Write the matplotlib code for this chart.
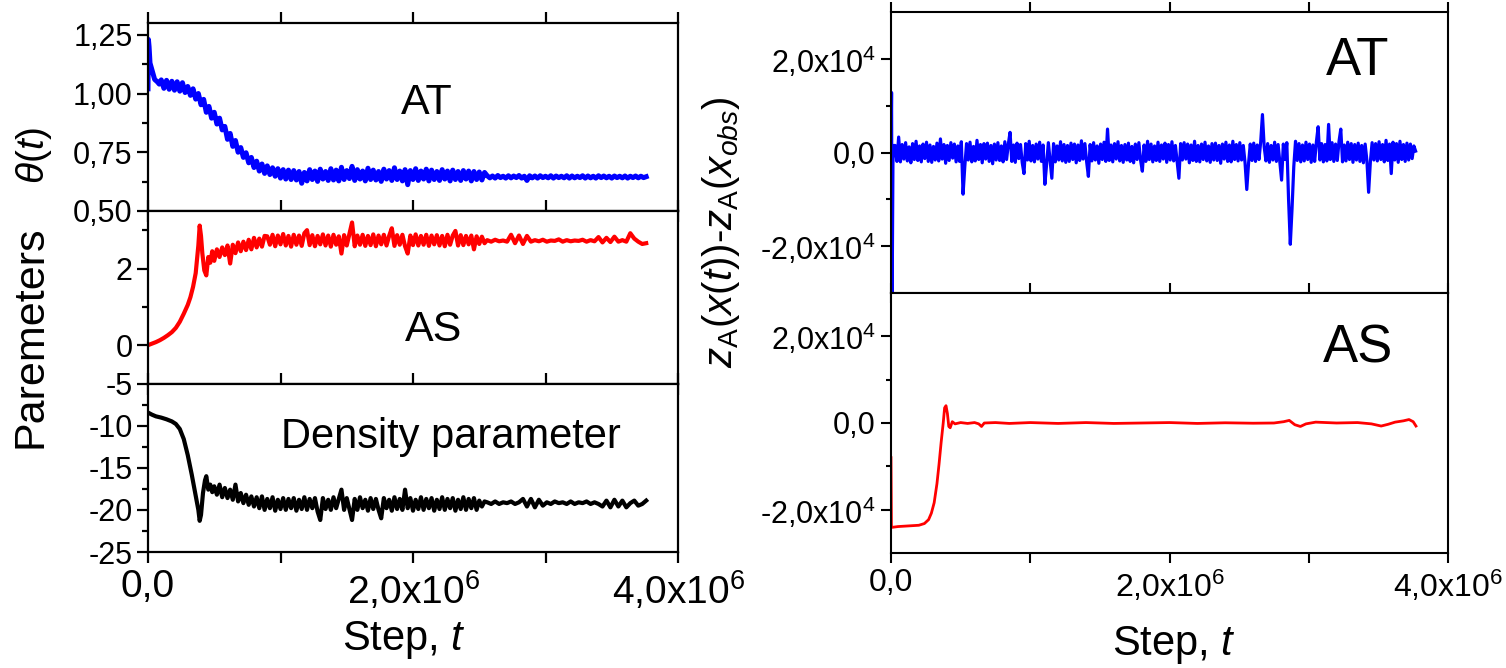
import numpy as np
import matplotlib.pyplot as plt
from matplotlib.ticker import FixedLocator, FuncFormatter

plt.rcParams['font.family'] = 'Liberation Sans'
plt.rcParams['mathtext.fontset'] = 'custom'
plt.rcParams['mathtext.rm'] = 'Liberation Sans'
plt.rcParams['mathtext.it'] = 'Liberation Sans:italic'
plt.rcParams['mathtext.bf'] = 'Liberation Sans:bold'

# steps are in units of 1e6
# --- theta(t), AT run ---
theta_head_t = [0.0, 0.003, 0.008, 0.015, 0.03, 0.05, 0.07, 0.085]
theta_head = [1.02, 1.23, 1.20, 1.13, 1.10, 1.06, 1.05, 1.04]
theta_fall = [1.058, 1.022, 1.056, 1.018, 1.052, 1.014, 1.050, 1.010, 1.046, 1.004,
              1.030, 0.992, 1.020, 0.976, 1.000, 0.952, 0.975, 0.920, 0.945, 0.895,
              0.920, 0.870, 0.895, 0.845, 0.860, 0.805, 0.830, 0.775, 0.800, 0.750,
              0.770, 0.728, 0.748, 0.705, 0.728, 0.685, 0.712, 0.670, 0.700, 0.660,
              0.692, 0.655, 0.684, 0.648, 0.680, 0.640, 0.676, 0.636, 0.674, 0.634]
theta_mid = [0.672, 0.632, 0.668, 0.618, 0.664, 0.628, 0.676, 0.634, 0.670, 0.626,
             0.678, 0.636, 0.668, 0.630, 0.680, 0.632, 0.674, 0.628, 0.686, 0.634,
             0.672, 0.638, 0.690, 0.630, 0.676, 0.636, 0.670, 0.628, 0.682, 0.634,
             0.674, 0.632, 0.668, 0.626, 0.678, 0.636, 0.672, 0.630, 0.684, 0.634,
             0.670, 0.628, 0.676, 0.612, 0.672, 0.634, 0.680, 0.630, 0.670, 0.636,
             0.678, 0.628, 0.674, 0.634, 0.668, 0.630, 0.676, 0.636, 0.670, 0.628,
             0.674, 0.634, 0.668, 0.630, 0.672, 0.636, 0.670, 0.628, 0.668, 0.634,
             0.666, 0.632, 0.664]
theta_tail = [0.650, 0.641, 0.649, 0.640, 0.651, 0.642, 0.648, 0.640, 0.650, 0.641,
              0.649, 0.642, 0.651, 0.640, 0.648, 0.630, 0.650, 0.641, 0.649, 0.640,
              0.650, 0.642, 0.648, 0.641, 0.650, 0.640, 0.649, 0.642, 0.648, 0.641,
              0.650, 0.640, 0.649, 0.641, 0.648, 0.642, 0.650, 0.640, 0.649, 0.641,
              0.648, 0.640, 0.650, 0.642, 0.649, 0.641, 0.648, 0.640, 0.649, 0.642,
              0.648, 0.641, 0.649, 0.640, 0.648, 0.642, 0.649, 0.641, 0.648, 0.642,
              0.646]

# --- AS parameter ---
as_head_t = [0.0, 0.03, 0.06, 0.09, 0.12, 0.15, 0.18, 0.21, 0.24, 0.27, 0.30, 0.32,
             0.34, 0.36, 0.38, 0.39, 0.40, 0.41, 0.425, 0.44, 0.455, 0.47, 0.485]
as_head = [0.0, 0.04, 0.08, 0.13, 0.19, 0.26, 0.34, 0.45, 0.61, 0.82, 1.05, 1.25,
           1.52, 1.88, 2.6, 3.12, 2.85, 2.4, 1.95, 1.82, 2.3, 2.15, 2.45]
as_early = [2.20, 2.50, 2.30, 2.55, 2.35, 2.60, 2.13, 2.62, 2.40, 2.68,
            2.45, 2.70, 2.48, 2.75, 2.50, 2.80, 2.55, 2.78, 2.57, 2.85]
as_mid = [2.84, 2.62, 2.88, 2.58, 2.86, 2.63, 2.90, 2.60, 2.85, 2.57,
          2.88, 2.62, 2.86, 2.59, 2.92, 3.00, 2.61, 2.87, 2.58, 2.85,
          2.63, 2.89, 2.60, 2.86, 2.57, 2.88, 2.62, 2.84, 2.39, 2.87,
          2.60, 2.90, 3.20, 2.58, 2.86, 2.62, 2.88, 2.59, 2.85, 2.61,
          2.89, 2.58, 2.86, 2.63, 2.88, 2.60, 2.85, 3.05, 2.59, 2.87,
          2.62, 2.88, 2.58, 2.39, 2.86, 2.61, 2.89, 2.60, 2.85, 2.62,
          2.88, 2.59, 2.86, 2.63, 2.87, 2.60, 2.85, 2.58, 2.88, 2.62,
          2.86, 2.98, 2.60, 2.87, 2.61, 2.85, 2.63, 2.86, 2.50, 2.84,
          2.64, 2.83, 2.66]
as_tail = [2.74, 2.70, 2.75, 2.71, 2.73, 2.70, 2.88, 2.66, 2.86, 2.64,
           2.85, 2.70, 2.74, 2.71, 2.75, 2.70, 2.73, 2.72, 2.76, 2.70,
           2.74, 2.71, 2.73, 2.72, 2.75, 2.70, 2.74, 2.71, 2.82, 2.68,
           2.80, 2.69, 2.83, 2.70, 2.74, 2.70, 2.92, 2.78, 2.70, 2.64,
           2.66]

# --- density parameter ---
rho_head_t = [0.0, 0.03, 0.06, 0.10, 0.14, 0.18, 0.21, 0.24, 0.27, 0.30, 0.33, 0.36,
              0.38, 0.39, 0.40, 0.415, 0.43, 0.44, 0.455, 0.47, 0.485]
rho_head = [-8.45, -8.7, -8.9, -9.05, -9.25, -9.5, -9.8, -10.4, -11.6, -13.5, -15.8, -18.3,
            -20.0, -21.3, -20.6, -18.0, -16.5, -16.0, -17.6, -17.0, -17.9]
rho_early = [-17.2, -18.2, -17.0, -18.5, -17.4, -18.6, -17.6, -18.8, -17.0, -19.0,
             -18.0, -19.2, -18.2, -19.4, -18.4, -19.6, -18.5, -19.8, -18.4, -20.0]
rho_mid = [-18.7, -19.8, -18.5, -20.1, -18.8, -19.9, -18.6, -20.0, -18.7, -19.8,
           -18.6, -20.1, -18.8, -19.9, -18.5, -20.0, -18.7, -19.8, -18.6, -20.2,
           -21.2, -18.6, -19.9, -18.8, -20.0, -18.5, -19.8, -18.7, -17.6, -20.0,
           -18.6, -19.9, -21.2, -18.7, -20.0, -18.5, -19.8, -18.8, -20.1, -18.6,
           -19.9, -18.7, -20.0, -21.0, -18.6, -19.8, -18.8, -20.1, -18.5, -19.9,
           -18.7, -20.0, -17.6, -19.8, -18.6, -20.1, -18.8, -19.9, -18.5, -20.0,
           -18.7, -19.8, -18.6, -20.1, -18.8, -19.9, -18.5, -20.0, -18.7, -19.8,
           -18.6, -20.1, -18.8, -19.9, -18.5, -20.0, -18.7, -19.8, -18.6, -20.0,
           -18.9, -19.6, -19.0]
rho_tail = [-19.1, -19.3, -19.0, -19.3, -19.1, -19.2, -19.0, -19.3, -19.1, -18.7,
            -19.6, -18.7, -19.7, -18.8, -19.5, -19.1, -19.3, -19.0, -19.2, -19.1,
            -19.3, -19.0, -19.3, -19.1, -19.2, -19.0, -19.3, -19.1, -19.3, -19.6,
            -18.9, -19.7, -18.8, -19.6, -18.9, -19.7, -19.2, -18.9, -19.5, -19.3,
            -18.9]

# --- z_A(x(t)) - z_A(x_obs), AT run (values in 1e3) ---
dz_at_head_t = [0.0, 0.004, 0.008, 0.014, 0.02]
dz_at_head = [0.0, 12.8, -32.0, -2.0, 1.5]
dz_at_body = [1.5, -1.9, 3.3, -2.0, 1.7, -1.4, 2.1, -1.8, 1.2, -2.2, 1.9, -1.5, 2.4, -1.7, 1.4, -2.0, 1.8, -1.3, 2.2, -1.9,
              1.6, -2.1, 1.3, -1.6, 2.0, -1.8, 2.9, -1.4, 1.7, -2.3, 1.5, -1.7, 2.1, -1.2, 1.8, -2.0, 1.4, -1.9, 2.3, -8.9,
              -3.0, 1.9, -1.6, 2.2, -2.0, 1.3, -1.8, 2.6, -1.5, 1.7, -2.2, 1.9, -1.4, 2.0, -1.9, 1.5, -2.4, 1.8, -1.6, 2.1,
              -1.7, 1.4, -2.0, 2.3, -1.5, 1.8, 4.3, -1.9, 1.6, -2.1, 2.0, -1.3, 1.7, -2.2, -4.5, 1.9, -1.6, 2.4, -1.8, 1.5,
              -2.0, 1.8, -1.4, 2.2, -1.9, 1.6, -6.8, -2.5, 2.1, -1.7, -5.5, 1.9, -2.0, 1.4, -1.6, 2.3, -1.8, 1.7, -2.1, 1.5,
              -1.9, 2.0, -1.5, 1.8, -2.2, 1.6, -1.7, 2.5, -1.4, 1.9, -2.0, -5.1, 1.7, -1.8, 2.1, -1.6, 1.4, -2.3, 1.8, -1.5,
              2.2, -1.9, 5.0, -1.7, 1.6, -2.0, 1.9, -1.4, 2.3, -1.8, 1.5, -2.1, 1.7, -1.6, 2.0, -1.9, 1.3, -2.2, 1.8, -1.5,
              2.1, -1.7, -4.0, 1.6, -1.9, 2.4, -1.5, 1.8, -2.0, 1.4, -1.7, 2.2, -1.9, 1.6, -1.4, 2.0, -2.1, 1.7, -1.6, 2.3,
              -1.8, 1.5, -2.0, -5.5, 1.9, -1.6, 2.1, -1.4, 1.8, -2.2, 1.6, -1.7, 2.4, -1.9, 1.5, -2.0, 1.8, -1.5, 2.2, -1.8,
              1.4, -2.1, 1.9, -1.6, 2.0, -1.7, 1.5, -2.3, 1.8, -1.4, 2.2, -1.9, 1.6, -2.0, 2.4, -1.5, 1.7, -1.8, 2.1, -1.6,
              1.5, -2.2, -7.9, -2.4, 1.8, -1.7, 2.0, -1.9, 1.6, -1.5, 2.3, 8.1, 1.2, -1.8, 1.9, -2.1, 1.5, -1.6, 2.2, -1.9,
              1.7, -2.0, -5.9, 1.8, -1.5, 2.1, -10.0, -19.6, -12.0, -3.0, 2.4, -1.7, 1.9, -2.0, 1.6, -1.8, 2.2, -1.5, 1.8, -2.1,
              1.6, -1.9, 2.3, 5.5, -1.6, 1.9, -2.0, 1.7, -1.8, 6.0, -1.5, 2.1, -1.9, 1.8, -1.7, 2.4, 5.0, -2.0, 1.6, -1.8,
              2.2, -1.5, 1.9, -2.1, 1.7, -1.6, 2.0, -1.9, 1.5, -2.2, 1.8, -1.7, -8.5, -2.0, 2.1, -1.6, 1.9, -1.8, 2.3, -1.5,
              1.7, -2.0, 2.6, -1.7, 1.8, -4.5, 2.2, -1.6, 1.9, -2.1, 2.4, -1.5, 1.7, -1.9, 2.0, -1.6, 1.8, -1.3, 1.4, 0.3]

# --- z_A(x(t)) - z_A(x_obs), AS run (values in 1e3) ---
dz_as_t = [0.0, 0.003, 0.05, 0.10, 0.15, 0.20, 0.24, 0.27, 0.29, 0.31, 0.33, 0.345,
           0.36, 0.375, 0.385, 0.395, 0.405, 0.415, 0.425, 0.44, 0.46, 0.50, 0.55,
           0.60, 0.63, 0.65, 0.67, 0.75, 0.85, 1.0, 1.2, 1.4, 1.6, 1.8, 2.0, 2.2,
           2.4, 2.6, 2.75, 2.82, 2.86, 2.9, 2.94, 2.98, 3.05, 3.2, 3.35, 3.45, 3.52,
           3.57, 3.62, 3.68, 3.72, 3.75, 3.77]
dz_as = [-8.0, -24.1, -23.9, -23.8, -23.7, -23.6, -23.2, -22.3, -20.8, -18.4,
         -14.0, -9.5, -4.5, 0.0, 3.5, 4.0, 2.2, -0.8, -1.1, 0.3, -0.2, 0.1, -0.1,
         0.1, -0.2, -0.8, 0.0, 0.1, -0.1, 0.1, -0.1, 0.1, -0.1, 0.0, 0.1, -0.1,
         0.05, -0.05, 0.0, 0.3, 0.6, -0.4, -0.8, -0.2, 0.2, 0.0, 0.1, -0.2, -0.7,
         -0.3, 0.2, 0.5, 0.8, 0.3, -0.7]


def grid(start, step, vals):
    return start + step * np.arange(len(vals))


theta_t = np.concatenate([theta_head_t, grid(0.10, 0.02, theta_fall),
                          grid(1.10, 0.02, theta_mid), grid(2.56, 0.02, theta_tail)])
theta = np.concatenate([theta_head, theta_fall, theta_mid, theta_tail])
as_t = np.concatenate([as_head_t, grid(0.50, 0.02, as_early), grid(0.90, 0.02, as_mid),
                       grid(2.56, 0.03, as_tail)])
as_v = np.concatenate([as_head, as_early, as_mid, as_tail])
rho_t = np.concatenate([rho_head_t, grid(0.50, 0.02, rho_early), grid(0.90, 0.02, rho_mid),
                        grid(2.56, 0.03, rho_tail)])
rho = np.concatenate([rho_head, rho_early, rho_mid, rho_tail])
dz_at_t = np.concatenate([dz_at_head_t, grid(0.03, 0.0125, dz_at_body)])
dz_at = np.concatenate([dz_at_head, dz_at_body])

W, H = 1506, 668


def box(x0, y0, x1, y1):
    return [x0 / W, 1 - y1 / H, (x1 - x0) / W, (y1 - y0) / H]


def comma(v, nd):
    return ('%.*f' % (nd, v)).replace('.', ',')


def sci(v, pos=None):
    if v == 0:
        return '0,0'
    e = int(np.floor(np.log10(abs(v))))
    m = comma(abs(v) / 10 ** e, 1).replace(',', '{,}')
    s = r'$\mathregular{%sx10^{%d}}$' % (m, e)
    return '-' + s if v < 0 else s


def frame(ax, xlab, xsize, tl=7, lw=1.6):
    ax.set_xlim(0, 4e6)
    for sp in ax.spines.values():
        sp.set_linewidth(lw)
    ax.xaxis.set_major_locator(FixedLocator([0, 2e6, 4e6]))
    ax.xaxis.set_minor_locator(FixedLocator([1e6, 3e6]))
    ax.tick_params(which='both', direction='out', top=True, right=False, width=lw)
    ax.tick_params(axis='y', which='major', length=tl)
    ax.tick_params(axis='y', which='minor', length=tl * 0.55)
    ax.tick_params(axis='x', which='both', length=tl)
    if xlab:
        ax.xaxis.set_major_formatter(FuncFormatter(sci))
        ax.tick_params(axis='x', labelsize=xsize, pad=4)
    else:
        ax.tick_params(axis='x', labelbottom=False)


fig = plt.figure(figsize=(W / 100, H / 100), dpi=100)

# left column: stacked parameter traces
ax1 = fig.add_axes(box(148, 23, 678, 211))
ax2 = fig.add_axes(box(148, 211, 678, 383.5))
ax3 = fig.add_axes(box(148, 383.5, 678, 552))

ax1.plot(theta_t * 1e6, theta, color='#0000ff', lw=3.6)
ax1.set_ylim(0.5, 1.3)
ax1.yaxis.set_major_locator(FixedLocator([0.5, 0.75, 1.0, 1.25]))
ax1.yaxis.set_minor_locator(FixedLocator([0.625, 0.875, 1.125]))
ax1.yaxis.set_major_formatter(FuncFormatter(lambda v, p: comma(v, 2)))
frame(ax1, False, 28, tl=8)
ax1.text(0.526, 0.574, 'AT', transform=ax1.transAxes, ha='center', va='center', fontsize=31)

ax2.plot(as_t * 1e6, as_v, color='#ff0000', lw=3.0)
ax2.set_ylim(-1, 3.5)
ax2.yaxis.set_major_locator(FixedLocator([0, 2]))
ax2.yaxis.set_minor_locator(FixedLocator([1, 3]))
ax2.yaxis.set_major_formatter(FuncFormatter(lambda v, p: '%d' % v))
frame(ax2, False, 28, tl=8)
ax2.text(0.538, 0.31, 'AS', transform=ax2.transAxes, ha='center', va='center', fontsize=31)

ax3.plot(rho_t * 1e6, rho, color='black', lw=3.0)
ax3.set_ylim(-25, -5)
ax3.yaxis.set_major_locator(FixedLocator([-25, -20, -15, -10, -5]))
ax3.yaxis.set_minor_locator(FixedLocator([-22.5, -17.5, -12.5, -7.5]))
ax3.yaxis.set_major_formatter(FuncFormatter(lambda v, p: '%d' % v))
frame(ax3, True, 28, tl=8)
ax3.text(0.572, 0.683, 'Density parameter', transform=ax3.transAxes,
         ha='center', va='center', fontsize=30)

for a in (ax1, ax2, ax3):
    a.tick_params(axis='y', labelsize=22, pad=3)

fig.text(404 / W, 1 - 640 / H, r'Step, $t$', ha='center', va='center', fontsize=30)
fig.text(31 / W, 1 - 337 / H, 'Paremeters', rotation=90, ha='center', va='center', fontsize=31)
fig.text(34 / W, 1 - 155 / H, r'$\theta(t)$', rotation=90, ha='center', va='center', fontsize=28)

# right column: distance to the observed point
ax4 = fig.add_axes(box(891, 12, 1448, 293))
ax5 = fig.add_axes(box(891, 293, 1448, 553))

ax4.plot(dz_at_t * 1e6, dz_at * 1e3, color='#0000ff', lw=2.3)
ax5.plot(np.array(dz_as_t) * 1e6, np.array(dz_as) * 1e3, color='#ff0000', lw=2.0)

for a, lab in ((ax4, False), (ax5, True)):
    a.set_ylim(-3e4, 3e4)
    a.yaxis.set_major_locator(FixedLocator([-2e4, 0, 2e4]))
    a.yaxis.set_minor_locator(FixedLocator([-1e4, 1e4]))
    a.yaxis.set_major_formatter(FuncFormatter(sci))
    frame(a, lab, 23, tl=7, lw=1.5)
    a.tick_params(axis='y', labelsize=22, pad=4)

ax4.text(0.837, 0.826, 'AT', transform=ax4.transAxes, ha='center', va='center', fontsize=38)
ax5.text(0.838, 0.785, 'AS', transform=ax5.transAxes, ha='center', va='center', fontsize=38)

fig.text(1174 / W, 1 - 645 / H, r'Step, $t$', ha='center', va='center', fontsize=30)
fig.text(721 / W, 1 - 232 / H, r'$z_\mathrm{A}(x(t))$-$z_\mathrm{A}(x_{obs})$',
         rotation=90, ha='center', va='center', fontsize=29)

fig.savefig('out.png', dpi=100)
